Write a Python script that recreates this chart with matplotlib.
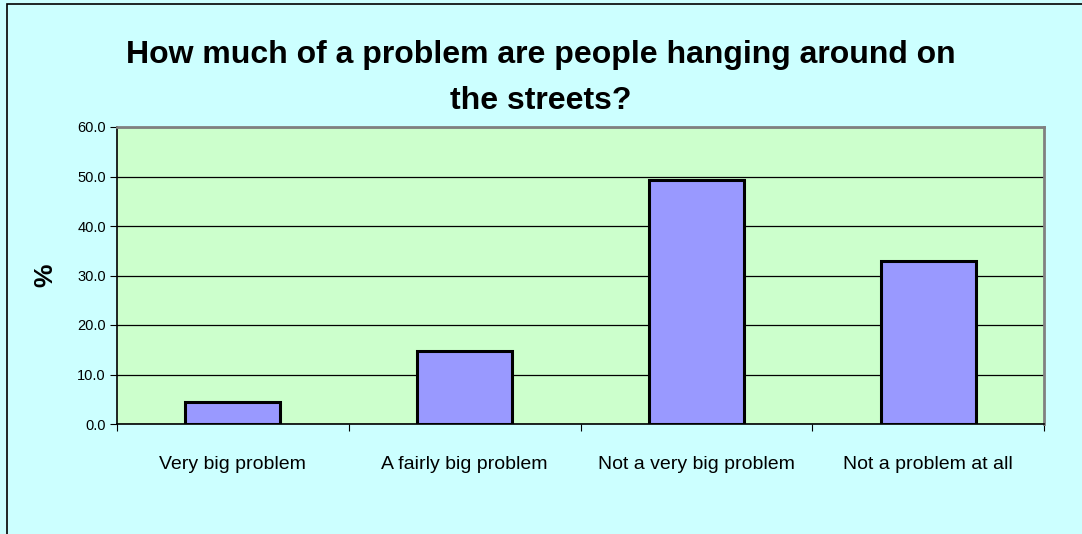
import matplotlib.pyplot as plt
import matplotlib.patches as mpatches
import numpy as np

categories = ['Very big problem', 'A fairly big problem', 'Not a very big problem', 'Not a problem at all']
values = [4.4, 14.7, 49.2, 32.9]
yticks = [0, 10, 20, 30, 40, 50, 60]

plt.rcParams['font.family'] = ['Liberation Sans', 'DejaVu Sans']

fig = plt.figure(figsize=(10.82, 5.34), dpi=100)
fig.patch.set_facecolor('#ccffff')
# outer chart border
fig.patches.append(mpatches.Rectangle((7 / 1082, -0.05), 1.2, 1 - 4 / 534 + 0.05,
                                      transform=fig.transFigure, fill=False,
                                      edgecolor='black', linewidth=1.2))

ax = fig.add_axes([117 / 1082, 1 - 424 / 534, 927 / 1082, 297 / 534])
ax.set_facecolor('#ccffcc')

x = np.arange(len(categories))
ax.bar(x, values, width=0.41, color='#9999ff', edgecolor='black', linewidth=2.2, zorder=3)

ax.set_xlim(-0.5, len(categories) - 0.5)
ax.set_ylim(0, 60)
ax.set_yticks(yticks)
ax.set_yticklabels(['%.1f' % v for v in yticks], fontsize=10.5)
ax.yaxis.grid(True, color='black', linewidth=0.9, zorder=0)
ax.set_axisbelow(True)

ax.set_xticks(np.arange(len(categories) + 1) - 0.5)
ax.set_xticklabels([])
ax.set_xticks(x, minor=True)
ax.set_xticklabels(categories, minor=True, fontsize=14)
ax.tick_params(axis='x', which='minor', length=0, pad=23)
ax.tick_params(axis='x', which='major', length=5, color='black', direction='out')
ax.tick_params(axis='y', length=5, direction='out', pad=3)

for side in ['top', 'right']:
    ax.spines[side].set_color('#808080')
    ax.spines[side].set_linewidth(2)
for side in ['left', 'bottom']:
    ax.spines[side].set_color('black')
    ax.spines[side].set_linewidth(1.2)

ax.set_ylabel('%', fontsize=19, fontweight='bold', labelpad=14)

fig.text(0.5, 1 - 55 / 534, 'How much of a problem are people hanging around on',
         ha='center', va='center', fontsize=23, fontweight='bold')
fig.text(0.5, 1 - 101 / 534, 'the streets?',
         ha='center', va='center', fontsize=23, fontweight='bold')

fig.savefig('out.png', dpi=100, facecolor=fig.get_facecolor())
